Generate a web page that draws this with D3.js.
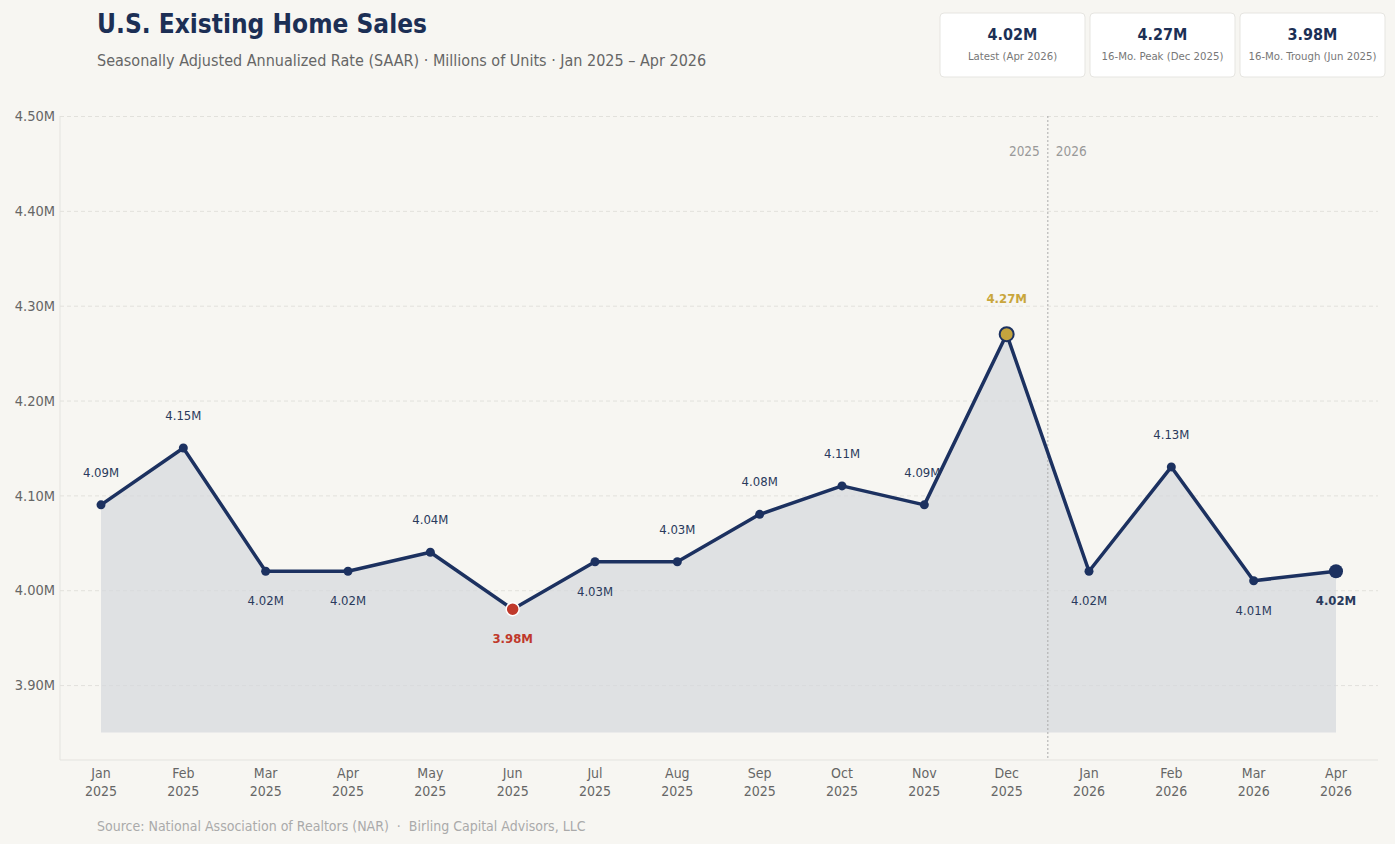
<!DOCTYPE html>
<html>
<head>
<meta charset="utf-8">
<script src="https://cdn.jsdelivr.net/npm/d3@7"></script>
<style>
  body { margin: 0; background: #f7f6f2; }
  svg { display: block; font-family: "DejaVu Sans Condensed", "DejaVu Sans", sans-serif; font-stretch: condensed; }
</style>
</head>
<body>
<div id="chart"></div>
<script>
// data
const months = ["Jan", "Feb", "Mar", "Apr", "May", "Jun", "Jul", "Aug", "Sep", "Oct", "Nov", "Dec", "Jan", "Feb", "Mar", "Apr"];
const years = ["2025", "2025", "2025", "2025", "2025", "2025", "2025", "2025", "2025", "2025", "2025", "2025", "2026", "2026", "2026", "2026"];
const sales = [4.09, 4.15, 4.02, 4.02, 4.04, 3.98, 4.03, 4.03, 4.08, 4.11, 4.09, 4.27, 4.02, 4.13, 4.01, 4.02];
const labelBelow = [false, false, true, true, false, true, true, false, false, false, false, false, true, false, true, true];
const yTicks = [3.90, 4.00, 4.10, 4.20, 4.30, 4.40, 4.50];
const cards = [
  { value: "4.02M", label: "Latest (Apr 2026)" },
  { value: "4.27M", label: "16-Mo. Peak (Dec 2025)" },
  { value: "3.98M", label: "16-Mo. Trough (Jun 2025)" }
];

const W = 1395, H = 844;
const navy = "#1c3160";
const svg = d3.select("#chart").append("svg").attr("width", W).attr("height", H);
svg.append("rect").attr("width", W).attr("height", H).attr("fill", "#f7f6f2");

const pLeft = 60, pRight = 1378, pTop = 116, pBottom = 760;
const x = d3.scalePoint().domain(d3.range(sales.length)).range([101, 1336]);
const y = d3.scaleLinear().domain([3.821, 4.50]).range([pBottom, pTop]);

// title block
svg.append("text").attr("x", 97).attr("y", 33).attr("fill", "#1c2f55")
  .attr("font-size", 26).attr("font-weight", "bold").text("U.S. Existing Home Sales");
svg.append("text").attr("x", 97).attr("y", 66).attr("fill", "#666").attr("font-size", 16)
  .text("Seasonally Adjusted Annualized Rate (SAAR) · Millions of Units · Jan 2025 – Apr 2026");

// summary cards
const cg = svg.selectAll("g.card").data(cards).enter().append("g")
  .attr("transform", (d, i) => `translate(${940 + i * 150},13)`);
cg.append("rect").attr("width", 145).attr("height", 64).attr("rx", 4)
  .attr("fill", "#fff").attr("stroke", "#e6e5e1");
cg.append("text").attr("x", 72.5).attr("y", 27).attr("text-anchor", "middle")
  .attr("font-size", 16).attr("font-weight", "bold").attr("fill", "#1c2f55").text(d => d.value);
cg.append("text").attr("x", 72.5).attr("y", 47).attr("text-anchor", "middle")
  .attr("font-size", 11.3).attr("fill", "#777").text(d => d.label);

// plot frame
svg.append("line").attr("x1", pLeft).attr("x2", pLeft).attr("y1", pTop).attr("y2", pBottom)
  .attr("stroke", "#e4e3df");
svg.append("line").attr("x1", pLeft).attr("x2", pRight).attr("y1", pBottom).attr("y2", pBottom)
  .attr("stroke", "#e4e3df");

// grid + y axis
const yAxis = svg.append("g").attr("transform", `translate(${pLeft},0)`)
  .call(d3.axisLeft(y).tickValues(yTicks).tickSize(-(pRight - pLeft)).tickFormat(d => d.toFixed(2) + "M"));
yAxis.select(".domain").remove();
yAxis.selectAll(".tick line").attr("stroke", "#e2e1dc").attr("stroke-dasharray", "4,3");
yAxis.selectAll(".tick text").attr("x", -5).attr("fill", "#666").attr("font-size", 14.5)
  .attr("font-family", "DejaVu Sans Condensed, DejaVu Sans");

// x labels
const xl = svg.append("g").selectAll("text").data(months).enter().append("text")
  .attr("x", (d, i) => x(i)).attr("text-anchor", "middle").attr("fill", "#666").attr("font-size", 14);
xl.append("tspan").attr("x", (d, i) => x(i)).attr("y", 778).text(d => d);
xl.append("tspan").attr("x", (d, i) => x(i)).attr("y", 796).text((d, i) => years[i]);

// area fill
const base = 3.85;
svg.append("path").datum(sales)
  .attr("d", d3.area().x((d, i) => x(i)).y0(y(base)).y1(d => y(d)))
  .attr("fill", "#d6d8dc").attr("opacity", 0.72);

// year divider
const divX = (x(11) + x(12)) / 2;
svg.append("line").attr("x1", divX).attr("x2", divX).attr("y1", pTop).attr("y2", pBottom)
  .attr("stroke", "#aaa").attr("stroke-dasharray", "2,2");
svg.append("text").attr("x", divX - 8).attr("y", 156).attr("text-anchor", "end")
  .attr("fill", "#999").attr("font-size", 13.5).text("2025");
svg.append("text").attr("x", divX + 8).attr("y", 156)
  .attr("fill", "#999").attr("font-size", 13.5).text("2026");

// line
svg.append("path").datum(sales)
  .attr("d", d3.line().x((d, i) => x(i)).y(d => y(d)))
  .attr("fill", "none").attr("stroke", navy).attr("stroke-width", 3.5).attr("stroke-linejoin", "round");

const peak = sales.indexOf(d3.max(sales));
const trough = sales.indexOf(d3.min(sales));
const last = sales.length - 1;

// markers
svg.append("g").selectAll("circle").data(sales).enter().append("circle")
  .attr("cx", (d, i) => x(i)).attr("cy", d => y(d))
  .attr("r", (d, i) => i === peak || i === last ? 7 : i === trough ? 6.5 : 4.5)
  .attr("fill", (d, i) => i === peak ? "#c4a43e" : i === trough ? "#c0392b" : navy)
  .attr("stroke", (d, i) => i === peak ? navy : i === trough ? "#fff" : "none")
  .attr("stroke-width", (d, i) => i === peak ? 2 : 1.5);

// value labels
svg.append("g").selectAll("text").data(sales).enter().append("text")
  .attr("x", (d, i) => x(i) - (i === 10 ? 2 : 0))
  .attr("y", (d, i) => y(d) + (labelBelow[i] ? 34 : -28) + (i === peak ? -3 : 0))
  .attr("text-anchor", "middle")
  .attr("font-size", 13)
  .attr("font-weight", (d, i) => i === peak || i === trough || i === last ? "bold" : "normal")
  .attr("fill", (d, i) => i === peak ? "#c9a63c" : i === trough ? "#c0392b" : "#2a3a5c")
  .text(d => d.toFixed(2) + "M");

// footer
svg.append("text").attr("x", 97).attr("y", 831).attr("fill", "#aaa").attr("font-size", 14)
  .text("Source: National Association of Realtors (NAR)\u00a0\u00a0·\u00a0\u00a0Birling Capital Advisors, LLC");
</script>
</body>
</html>
